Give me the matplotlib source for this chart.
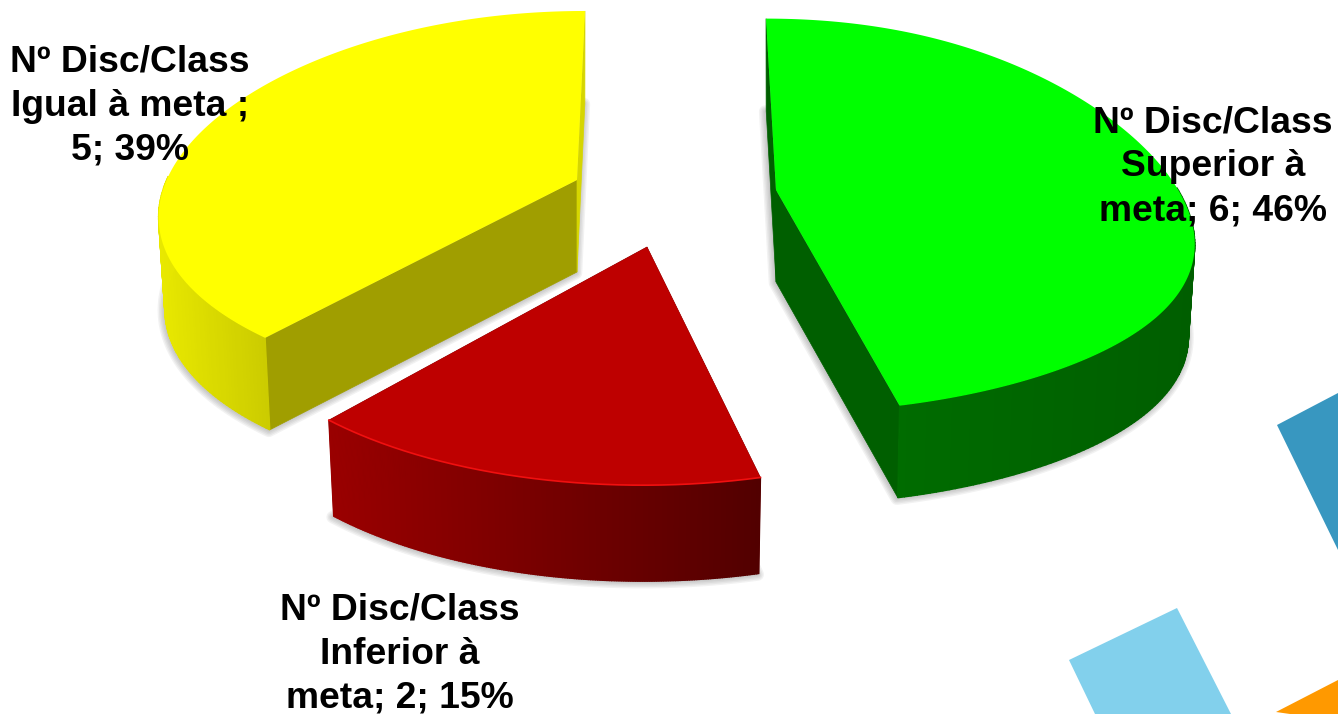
import numpy as np
import matplotlib
matplotlib.use('Agg')
import matplotlib.pyplot as plt

categories = ['Superior à meta', 'Inferior à meta', 'Igual à meta']
values = [6, 2, 5]
labels = ['Nº Disc/Class\nSuperior à\nmeta; 6; 46%',
          'Nº Disc/Class\nInferior à\nmeta; 2; 15%',
          'Nº Disc/Class\nIgual à meta ;\n5; 39%']

centers = [(776, 190), (647, 247), (577, 180)]
skews = [-10, 4, 8]
depths = [92, 96, 92]
x_scale = [1.0, 1.03, 1.0]
y_scale = [1.0, 1.07, 0.975]
persp = [0.13, 0.13, 0.12]
droop = [20, 0, -4]
top_cols = ['#00FF00', '#BE0000', '#FFFF00']
# colour of the cut face at the start and at the end of each slice
start_cols = ['#005F00', '#8A0000', '#A09E00']
end_cols = ['#005F00', '#8A0000', '#D6D600']
side_left = ['#006C00', '#9A0000', '#E8E800']
side_right = ['#005E00', '#520000', '#CCCC00']
label_pos = [(1213, 167), (400, 654), (130, 106)]

RX, RY = 412, 197


def project(theta, i, r=1.0):
    # theta clockwise from 12 o'clock, fake perspective on the flat ellipse
    cx, cy = centers[i]
    u = r * np.sin(theta)
    v = r * np.cos(theta)
    x = cx + RX * x_scale[i] * u * (1 - 0.16 * v) + skews[i] * v
    y = cy - RY * y_scale[i] * v * (1 - persp[i] * v) + droop[i] * u ** 3
    return x, y


def lower(x, y, cx, depth):
    return cx + (np.asarray(x) - cx) * 0.985, np.asarray(y) + depth


def mix(c1, c2, t):
    a = np.array(matplotlib.colors.to_rgb(c1))
    b = np.array(matplotlib.colors.to_rgb(c2))
    return tuple(a + (b - a) * t)


fig = plt.figure(figsize=(13.38, 7.14), dpi=100)
ax = fig.add_axes([0, 0, 1, 1])
ax.set_xlim(0, 1338)
ax.set_ylim(714, 0)
ax.axis('off')

# background decoration
ax.fill([1277, 1338, 1338], [425, 393, 550], color='#3897C0', lw=0)
ax.fill([1069, 1177, 1231, 1095], [660, 608, 714, 714], color='#82D0EC', lw=0)
ax.fill([1276, 1338, 1338, 1290], [712, 680, 714, 714], color='#FF9900', lw=0)

fracs = np.array(values) / sum(values)
starts = np.concatenate([[0], np.cumsum(fracs)[:-1]]) * 2 * np.pi
ends = np.cumsum(fracs) * 2 * np.pi

slices = []
for i in range(3):
    t = np.linspace(starts[i], ends[i], 200)
    x, y = project(t, i)
    slices.append((t, x, y, centers[i][0], centers[i][1]))

# soft shadows, tight and a bit down-left
for i in range(3):
    t, x, y, cx, cy = slices[i]
    bx, by = lower(x, y, cx, depths[i])
    px = np.concatenate([[cx], bx])
    py = np.concatenate([[cy + depths[i]], by])
    for w in range(9, 0, -2):
        ax.fill(px - 1, py + 1, facecolor='none', edgecolor='#707070', lw=w, alpha=0.09, joinstyle='round')

for i in [2, 1, 0]:
    t, x, y, cx, cy = slices[i]
    d = depths[i]
    bx, by = lower(x, y, cx, d)
    acx, acy = cx, cy + d
    # cut faces
    ax.fill([cx, x[0], bx[0], acx], [cy, y[0], by[0], acy], color=start_cols[i], lw=0.5)
    ax.fill([cx, x[-1], bx[-1], acx], [cy, y[-1], by[-1], acy], color=end_cols[i], lw=0.5)
    # outer wall, only the part that faces the viewer
    limit = 0.12 if i == 0 else 0.05
    vis = np.where(np.cos(t) < limit)[0]
    xmin, xmax = x[vis].min(), x[vis].max()
    for j in vis[:-1]:
        f = (x[j] - xmin) / (xmax - xmin)
        col = mix(side_left[i], side_right[i], f)
        ax.fill([x[j], x[j + 1], bx[j + 1], bx[j]], [y[j], y[j + 1], by[j + 1], by[j]],
                facecolor=col, edgecolor=col, lw=1.0)
    # top
    ax.fill(np.concatenate([[cx], x]), np.concatenate([[cy], y]), color=top_cols[i], lw=0)

ax.plot(slices[1][1], slices[1][2], color='#F01010', lw=1.2)

for i in range(3):
    ax.text(label_pos[i][0], label_pos[i][1], labels[i], family='Liberation Sans', weight='bold',
            fontsize=26.8, ha='center', va='center', linespacing=1.32, color='black')

fig.savefig('out.png', dpi=100)
